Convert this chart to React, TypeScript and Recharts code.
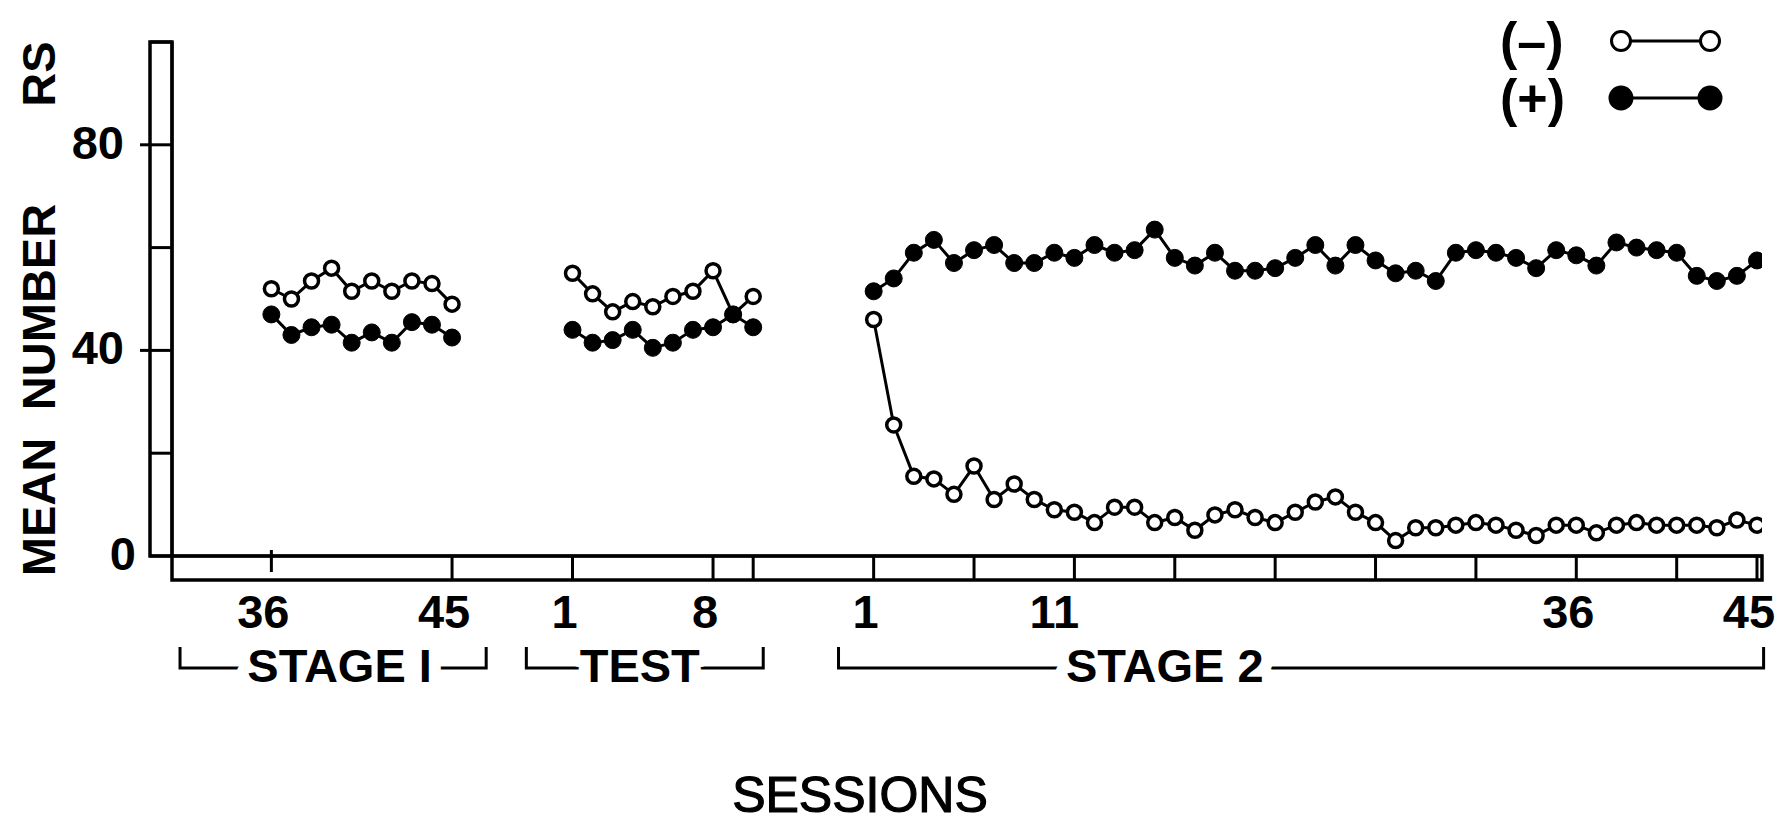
import { LineChart, Line, XAxis, YAxis, Legend, Customized } from 'recharts';

const FONT = "'Liberation Sans', Arial, sans-serif";
const INK = '#000';

// sessions shown in each block of the x axis
const stage1Sessions = [36, 37, 38, 39, 40, 41, 42, 43, 44, 45];
const testSessions = [1, 2, 3, 4, 5, 6, 7, 8, 9, 10];
const stage2Sessions = [
  1, 2, 3, 4, 5, 6, 7, 8, 9, 10, 11, 12, 13, 14, 15, 16, 17, 18, 19, 20, 21, 22, 23,
  24, 25, 26, 27, 28, 29, 30, 31, 32, 33, 34, 35, 36, 37, 38, 39, 40, 41, 42, 43, 44, 45,
];

// mean number of responses, (-) = open circles, (+) = filled circles
const stage1Minus = [52, 50, 53.5, 56, 51.5, 53.5, 51.5, 53.5, 53, 49];
const stage1Plus = [47, 43, 44.5, 45, 41.5, 43.5, 41.5, 45.5, 45, 42.5];
const testMinus = [55, 51, 47.5, 49.5, 48.5, 50.5, 51.5, 55.5, 47, 50.5];
const testPlus = [44, 41.5, 42, 44, 40.5, 41.5, 44, 44.5, 47, 44.5];
const stage2Minus = [
  46, 25.5, 15.5, 15, 12, 17.5, 11, 14, 11, 9, 8.5, 6.5, 9.5, 9.5, 6.5, 7.5, 5, 8, 9, 7.5, 6.5, 8.5, 10.5,
  11.5, 8.5, 6.5, 3, 5.5, 5.5, 6, 6.5, 6, 5, 4, 6, 6, 4.5, 6, 6.5, 6, 6, 6, 5.5, 7, 6,
];
const stage2Plus = [
  51.5, 54, 59, 61.5, 57, 59.5, 60.5, 57, 57, 59, 58, 60.5, 59, 59.5, 63.5, 58, 56.5, 59, 55.5, 55.5, 56, 58, 60.5,
  56.5, 60.5, 57.5, 55, 55.5, 53.5, 59, 59.5, 59, 58, 56, 59.5, 58.5, 56.5, 61, 60, 59.5, 59, 54.5, 53.5, 54.5, 57.5,
];

// session numbers printed under the axis
const stage1TickLabels = [36, 45];
const testTickLabels = [1, 8];
const stage2TickLabels = [1, 11, 36, 45];

// sessions that get a divider in the axis bar
const stage1Dividers = [45];
const testDividers = [1, 8, 10];
const stage2Dividers = [1, 6, 11, 16, 21, 26, 31, 36, 41, 45];
const stage1ShortMarks = [36];

const yTickLabels = [0, 40, 80];
const yDividers = [0, 20, 40, 60, 80, 100];
const Y_MAX = 100;

// layout
const W = 1782;
const H = 823;
const MARGIN = { top: 42, right: 20, left: 0, bottom: 123 };
const Y_BAR = 22;
const Y_LABEL_W = 150;
const X_BAR = 24;
const X_NUM_H = 60;
const X_STAGE_H = 60;
const X_DOMAIN: [number, number] = [-4.95, 74.25];
const PLOT_LEFT = MARGIN.left + Y_LABEL_W + Y_BAR;
const PLOT_W = W - MARGIN.right - PLOT_LEFT;
const PLOT_H = H - MARGIN.top - MARGIN.bottom - X_BAR - X_NUM_H - X_STAGE_H;
const PLOT_BOTTOM = MARGIN.top + PLOT_H;
const PX_PER_POS = PLOT_W / (X_DOMAIN[1] - X_DOMAIN[0]);

const blocks = [
  {
    at: 0, title: 'STAGE I', sessions: stage1Sessions, minus: stage1Minus, plus: stage1Plus,
    tickLabels: stage1TickLabels, dividers: stage1Dividers, bracket: [-4.55, 3.4, 10.7],
  },
  {
    at: 15, title: 'TEST', sessions: testSessions, minus: testMinus, plus: testPlus,
    tickLabels: testTickLabels, dividers: testDividers, bracket: [12.7, 18.35, 24.5],
  },
  {
    at: 30, title: 'STAGE 2', sessions: stage2Sessions, minus: stage2Minus, plus: stage2Plus,
    tickLabels: stage2TickLabels, dividers: stage2Dividers, bracket: [28.25, 44.5, 74.33],
  },
];

type Block = (typeof blocks)[number];
type Row = { pos: number; session: number | null; minus: number | null; plus: number | null };

const posOf = (b: Block, session: number) => b.at + b.sessions.indexOf(session);

const data: Row[] = blocks.flatMap((b, k) => {
  const rows: Row[] = b.sessions.map((s, i) => ({ pos: b.at + i, session: s, minus: b.minus[i], plus: b.plus[i] }));
  // an empty row between blocks so the lines break
  if (k < blocks.length - 1) rows.push({ pos: b.at + b.sessions.length + 1, session: null, minus: null, plus: null });
  return rows;
});

const labelTicks = blocks.flatMap((b) => b.tickLabels.map((s) => posOf(b, s)));
const labelText = new Map(blocks.flatMap((b) => b.tickLabels.map((s) => [posOf(b, s), String(s)] as [number, string])));
// hand lettering sits a little left of its tick; "11" of stage 2 more so
const labelNudge = new Map([[posOf(blocks[2], 11), -20]]);
const shortMarks = new Set(stage1ShortMarks.map((s) => posOf(blocks[0], s)));
const dividerTicks = [...shortMarks, ...blocks.flatMap((b) => b.dividers.map((s) => posOf(b, s)))];
const stageTicks = blocks.map((b) => b.bracket[1]);

const DividerTick = ({ x, y, payload }: any) =>
  shortMarks.has(payload.value) ? (
    <line x1={x} x2={x} y1={y - 6} y2={y + 16} stroke={INK} strokeWidth={3} />
  ) : (
    <line x1={x} x2={x} y1={y} y2={y + X_BAR} stroke={INK} strokeWidth={3} />
  );

const SessionTick = ({ x, y, payload }: any) => (
  <text
    x={x + (labelNudge.get(payload.value) ?? -8)}
    y={y + 48}
    textAnchor="middle"
    fontFamily={FONT}
    fontWeight={700}
    fontSize={47}
    fill={INK}
  >
    {labelText.get(payload.value)}
  </text>
);

const StageTick = ({ x, y, payload }: any) => {
  const b = blocks.find((bl) => bl.bracket[1] === payload.value);
  if (!b) return null;
  const left = x + (b.bracket[0] - b.bracket[1]) * PX_PER_POS;
  const right = x + (b.bracket[2] - b.bracket[1]) * PX_PER_POS;
  const lineY = y + 28;
  const topY = y + 7;
  return (
    <g>
      <polyline
        points={`${left},${topY} ${left},${lineY} ${right},${lineY} ${right},${topY}`}
        fill="none"
        stroke={INK}
        strokeWidth={3}
      />
      <text
        x={x}
        y={y + 42}
        textAnchor="middle"
        fontFamily={FONT}
        fontWeight={700}
        fontSize={47}
        fill={INK}
        stroke="#fff"
        strokeWidth={24}
        strokeLinejoin="round"
        paintOrder="stroke"
      >
        {b.title}
      </text>
    </g>
  );
};

const YDividerTick = ({ x, y }: any) => <line x1={x - Y_BAR} x2={x} y1={y} y2={y} stroke={INK} strokeWidth={3} />;

const YLabelTick = ({ x, y, payload }: any) => {
  const major = payload.value !== 0;
  return (
    <g>
      {major && <line x1={x + 2} x2={x + 12} y1={y} y2={y} stroke={INK} strokeWidth={3} />}
      <text
        x={major ? x - 14 : x - 2}
        y={y + 14}
        textAnchor="end"
        fontFamily={FONT}
        fontWeight={700}
        fontSize={47}
        fill={INK}
      >
        {payload.value}
      </text>
    </g>
  );
};

// outlines of the two double-ruled axis bars
const AxisBars = () => (
  <g>
    <rect
      x={PLOT_LEFT}
      y={PLOT_BOTTOM}
      width={PLOT_W}
      height={X_BAR}
      fill="none"
      stroke={INK}
      strokeWidth={3.5}
    />
    <rect
      x={PLOT_LEFT - Y_BAR}
      y={MARGIN.top}
      width={Y_BAR}
      height={PLOT_H}
      fill="none"
      stroke={INK}
      strokeWidth={3.5}
    />
  </g>
);

const YTitle = ({ viewBox }: any) => {
  const bx = viewBox.x + 55;
  const words: [string, number][] = [
    ['RS', 74],
    ['NUMBER', 307],
    ['MEAN', 507],
  ];
  return (
    <g>
      {words.map(([w, cy]) => (
        <text
          key={w}
          x={bx}
          y={cy}
          transform={`rotate(-90, ${bx}, ${cy})`}
          textAnchor="middle"
          fontFamily={FONT}
          fontWeight={700}
          fontSize={47}
          fill={INK}
        >
          {w}
        </text>
      ))}
    </g>
  );
};

const SessionsTitle = ({ viewBox }: any) => (
  <text
    x={viewBox.x + 688}
    y={viewBox.y + 172}
    textAnchor="middle"
    fontFamily={FONT}
    fontSize={50}
    fill={INK}
    stroke={INK}
    strokeWidth={1.2}
  >
    SESSIONS
  </text>
);

const LegendContent = ({ payload }: any) => {
  // open series on top, as in the figure
  const items = [...(payload || [])].sort(
    (a: any, b: any) => (a.dataKey === 'minus' ? -1 : 0) - (b.dataKey === 'minus' ? -1 : 0),
  );
  return (
    <div style={{ fontFamily: FONT }}>
      {items.map((entry: any) => {
        const open = entry.dataKey === 'minus';
        return (
          <div key={entry.value} style={{ display: 'flex', alignItems: 'center', height: 57 }}>
            <span style={{ fontSize: 52, fontWeight: 700, lineHeight: 1, width: 108, color: INK }}>{entry.value}</span>
            <svg width={116} height={30}>
              <line x1={13} y1={15} x2={102} y2={15} stroke={INK} strokeWidth={3} />
              <circle cx={13} cy={15} r={open ? 9.5 : 11} fill={open ? '#fff' : INK} stroke={INK} strokeWidth={3} />
              <circle cx={102} cy={15} r={open ? 9.5 : 11} fill={open ? '#fff' : INK} stroke={INK} strokeWidth={3} />
            </svg>
          </div>
        );
      })}
    </div>
  );
};

export default function App() {
  return (
    <div style={{ position: 'absolute', left: 0, top: 0, width: W, height: H, background: '#fff' }}>
      <LineChart width={W} height={H} data={data} margin={MARGIN}>
        <XAxis
          xAxisId="x0bar"
          dataKey="pos"
          type="number"
          domain={X_DOMAIN}
          allowDataOverflow
          ticks={dividerTicks}
          interval={0}
          height={X_BAR}
          tickSize={0}
          tickMargin={0}
          tickLine={false}
          tick={DividerTick}
          axisLine={{ stroke: INK, strokeWidth: 3 }}
        />
        <XAxis
          xAxisId="x1num"
          dataKey="pos"
          type="number"
          domain={X_DOMAIN}
          allowDataOverflow
          ticks={labelTicks}
          interval={0}
          height={X_NUM_H}
          tickSize={0}
          tickMargin={0}
          tickLine={false}
          tick={SessionTick}
          axisLine={false}
        />
        <XAxis
          xAxisId="x2stage"
          dataKey="pos"
          type="number"
          domain={X_DOMAIN}
          allowDataOverflow
          ticks={stageTicks}
          interval={0}
          height={X_STAGE_H}
          tickSize={0}
          tickMargin={0}
          tickLine={false}
          tick={StageTick}
          axisLine={false}
          label={SessionsTitle}
        />
        <YAxis
          yAxisId="y0bar"
          type="number"
          domain={[0, Y_MAX]}
          allowDataOverflow
          ticks={yDividers}
          interval={0}
          width={Y_BAR}
          tickSize={0}
          tickMargin={0}
          tickLine={false}
          tick={YDividerTick}
          axisLine={{ stroke: INK, strokeWidth: 3 }}
        />
        <YAxis
          yAxisId="y1num"
          type="number"
          domain={[0, Y_MAX]}
          allowDataOverflow
          ticks={yTickLabels}
          interval={0}
          width={Y_LABEL_W}
          tickSize={0}
          tickMargin={12}
          tickLine={false}
          tick={YLabelTick}
          axisLine={false}
          label={YTitle}
        />
        <Customized component={AxisBars} />
        <Legend
          content={LegendContent}
          layout="horizontal"
          verticalAlign="middle"
          align="center"
          wrapperStyle={{ top: 12, left: 1500, width: 260 }}
        />
        <Line
          xAxisId="x0bar"
          yAxisId="y0bar"
          dataKey="minus"
          name="(–)"
          stroke={INK}
          strokeWidth={3}
          dot={{ r: 7, fill: '#fff', stroke: INK, strokeWidth: 3.5 }}
          activeDot={false}
          isAnimationActive={false}
        />
        <Line
          xAxisId="x0bar"
          yAxisId="y0bar"
          dataKey="plus"
          name="(+)"
          stroke={INK}
          strokeWidth={3}
          dot={{ r: 8.5, fill: INK, stroke: INK, strokeWidth: 1 }}
          activeDot={false}
          isAnimationActive={false}
        />
      </LineChart>
    </div>
  );
}
